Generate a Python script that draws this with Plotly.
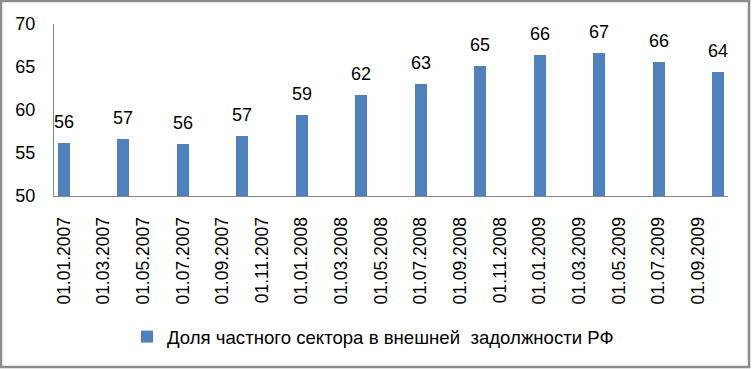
import plotly.graph_objects as go

# Data
dates = ["01.01.2007", "01.04.2007", "01.07.2007", "01.10.2007",
         "01.01.2008", "01.04.2008", "01.07.2008", "01.10.2008",
         "01.01.2009", "01.04.2009", "01.07.2009", "01.10.2009"]
share = [56.2, 56.6, 56.0, 57.0, 59.4, 61.7, 63.0, 65.1, 66.4, 66.6, 65.6, 64.4]
tick_labels = ["01.01.2007", "01.03.2007", "01.05.2007", "01.07.2007", "01.09.2007",
               "01.11.2007", "01.01.2008", "01.03.2008", "01.05.2008", "01.07.2008",
               "01.09.2008", "01.11.2008", "01.01.2009", "01.03.2009", "01.05.2009",
               "01.07.2009", "01.09.2009"]
series_name = "Доля частного сектора в внешней  задолжности РФ"

START_YEAR = 2007


def month_index(s):
    d, m, y = s.split(".")
    return (int(y) - START_YEAR) * 12 + int(m) - 1


x_vals = [month_index(d) for d in dates]
tick_vals = [month_index(t) for t in tick_labels]

W, H = 752, 369
ML, MR, MT, MB = 54, 24, 24, 173
PW, PH = W - ML - MR, H - MT - MB

FONT = "Liberation Sans"
BLUE = "#4F81BD"
AXIS = "#868686"

fig = go.Figure()
fig.add_trace(go.Bar(
    x=x_vals, y=share, width=0.6, marker=dict(color=BLUE, line=dict(width=0)),
    name=series_name, showlegend=True,
))

annotations = [
    dict(x=xv, y=v, text=f"{v:.0f}", showarrow=False, xref="x", yref="y",
         yanchor="bottom", xanchor="center", yshift=9,
         font=dict(family=FONT, size=18, color="#000000"))
    for xv, v in zip(x_vals, share)
]

fig.update_layout(
    width=W, height=H,
    margin=dict(l=ML, r=MR, t=MT, b=MB, autoexpand=False),
    paper_bgcolor="white", plot_bgcolor="white",
    font=dict(family=FONT, size=18, color="#000000"),
    bargap=0,
    annotations=annotations,
    showlegend=True,
    legend=dict(orientation="h", x=(127 - ML) / PW, xanchor="left", y=-0.82, yanchor="middle",
                font=dict(family=FONT, size=18.6, color="#000000"),
                itemwidth=30, bgcolor="rgba(0,0,0,0)"),
    shapes=[dict(type="rect", xref="paper", yref="paper",
                 x0=(1 - ML) / PW, x1=(749 - ML) / PW,
                 y0=(H - MB - 367) / PH, y1=(H - MB - 1) / PH,
                 line=dict(color="#8c8c8c", width=2.5), layer="below")],
)

fig.update_xaxes(
    range=[-0.5, 33.5], tickmode="array", tickvals=tick_vals, ticktext=tick_labels,
    tickangle=-90, showgrid=False, zeroline=False, showline=True,
    linecolor=AXIS, linewidth=1, ticks="", ticklabelstandoff=13,
    tickfont=dict(family=FONT, size=17.5, color="#000000"),
)
fig.update_yaxes(
    range=[50, 70], dtick=5, tick0=50, showgrid=False, zeroline=False,
    showline=True, linecolor=AXIS, linewidth=1, ticks="", ticklabelstandoff=14,
    tickfont=dict(family=FONT, size=18, color="#000000"),
)

fig.write_html("out.html", config={"displayModeBar": False},
               post_script="document.body.style.margin='0';document.body.style.overflow='hidden';")
